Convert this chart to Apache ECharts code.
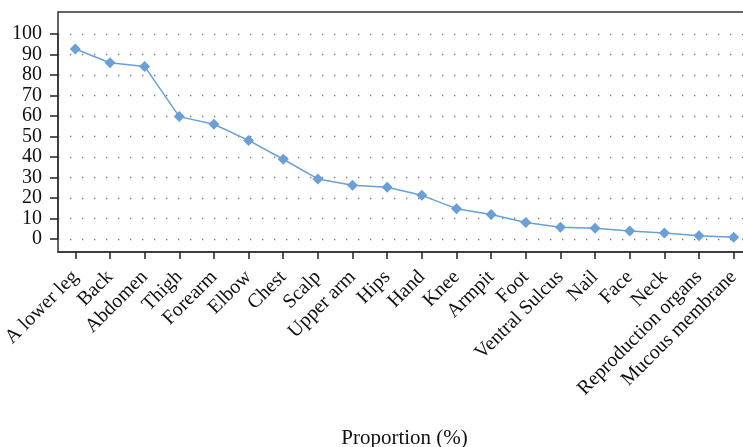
<!DOCTYPE html>
<html>
<head>
<meta charset="utf-8">
<script src="https://cdn.jsdelivr.net/npm/echarts@6/dist/echarts.min.js"></script>
<style>
	html, body { margin: 0; padding: 0; background: #fff; }
	#line { width: 743px; height: 447px; }
</style>
</head>
<body>
<div id="line"></div>
<script>
var categories = ['A lower leg', 'Back', 'Abdomen', 'Thigh', 'Forearm', 'Elbow', 'Chest', 'Scalp', 'Upper arm', 'Hips',
	'Hand', 'Knee', 'Armpit', 'Foot', 'Ventral Sulcus', 'Nail', 'Face', 'Neck', 'Reproduction organs', 'Mucous membrane'];
var proportion = [92.7, 86.0, 84.2, 59.7, 56.0, 48.1, 38.9, 29.3, 26.2, 25.2,
	21.3, 14.8, 12.0, 8.1, 5.7, 5.2, 3.9, 2.9, 1.6, 0.8];
var yMin = 0;
var yMax = 100;
var yStep = 10;

var serif = '"Liberation Serif", "DejaVu Serif", serif';
var chart = echarts.init(document.getElementById('line'));
var option = {
	animation: false,
	grid: [{
		// data area (0..100)
		left: 58,
		right: -8,
		top: 34,
		bottom: 208,
		outerBoundsMode: 'none',
		containLabel: false
	}, {
		// outer frame
		left: 58,
		right: -8,
		top: 12,
		bottom: 195,
		outerBoundsMode: 'none',
		containLabel: false,
		show: true,
		borderColor: '#333',
		borderWidth: 1.5
	}],
	xAxis: [{
		gridIndex: 0,
		type: 'category',
		data: categories,
		boundaryGap: true,
		show: false
	}, {
		gridIndex: 1,
		type: 'category',
		data: categories,
		boundaryGap: true,
		axisLine: { show: true, lineStyle: { color: '#333', width: 1.5 } },
		axisTick: { show: true, alignWithLabel: true, length: 7, lineStyle: { color: '#222', width: 1.5 } },
		axisLabel: {
			interval: 0,
			rotate: 45,
			margin: 22,
			color: '#111',
			fontFamily: serif,
			fontSize: 20
		},
		name: 'Proportion (%)',
		nameLocation: 'middle',
		nameGap: 176,
		nameTextStyle: { color: '#111', fontFamily: serif, fontSize: 21 }
	}],
	yAxis: [{
		gridIndex: 0,
		type: 'value',
		min: yMin,
		max: yMax,
		interval: yStep,
		axisLine: { show: true, lineStyle: { color: '#333', width: 1.5 } },
		axisTick: { show: true, length: 8, lineStyle: { color: '#222', width: 1.5 } },
		axisLabel: { margin: 16, color: '#111', fontFamily: serif, fontSize: 20 },
		splitLine: {
			show: true,
			lineStyle: { color: '#777', width: 1.3, type: [1.3, 10.7], dashOffset: -12 } //点状网格线
		}
	}, {
		gridIndex: 1,
		type: 'value',
		show: false,
		splitLine: { show: false }
	}],
	series: [{
		name: 'Proportion',
		type: 'line',
		xAxisIndex: 0,
		yAxisIndex: 0,
		symbol: 'diamond',
		symbolSize: 11,
		itemStyle: { color: '#6a9fd8' },
		lineStyle: { color: '#6a9fd8', width: 1.5 },
		data: proportion
	}]
};
chart.setOption(option);
</script>
</body>
</html>
